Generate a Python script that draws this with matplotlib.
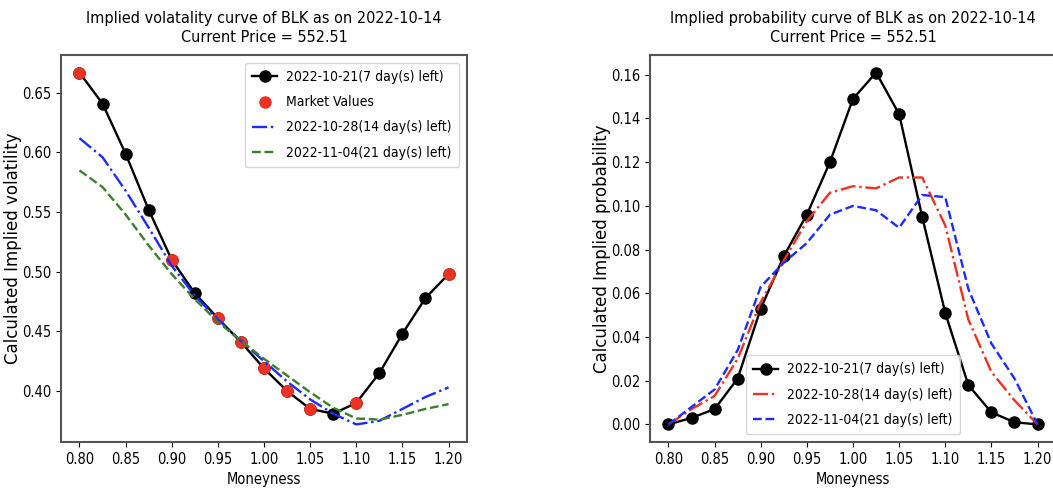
import numpy as np
import matplotlib
matplotlib.use("Agg")
import matplotlib.pyplot as plt

plt.rcParams['font.family'] = 'DejaVu Sans'
plt.rcParams['font.stretch'] = 'condensed'

# moneyness grid
moneyness = [0.800, 0.825, 0.850, 0.875, 0.900, 0.925, 0.950, 0.975, 1.000,
             1.025, 1.050, 1.075, 1.100, 1.125, 1.150, 1.175, 1.200]

# implied volatility curves
iv_7d = [0.667, 0.641, 0.599, 0.552, 0.510, 0.482, 0.461, 0.441, 0.419,
         0.400, 0.385, 0.381, 0.390, 0.415, 0.448, 0.478, 0.498]
iv_14d = [0.612, 0.596, 0.568, 0.537, 0.505, 0.480, 0.460, 0.442, 0.425,
          0.408, 0.393, 0.381, 0.372, 0.375, 0.385, 0.395, 0.403]
iv_21d = [0.585, 0.571, 0.548, 0.522, 0.498, 0.477, 0.458, 0.442, 0.427,
          0.413, 0.399, 0.386, 0.377, 0.376, 0.380, 0.385, 0.389]

# market quotes (7 day expiry)
market_x = [0.800, 0.900, 0.950, 0.975, 1.000, 1.025, 1.050, 1.100, 1.200]
market_iv = [0.667, 0.510, 0.461, 0.441, 0.419, 0.400, 0.385, 0.390, 0.498]

# implied probability curves
prob_7d = [0.000, 0.003, 0.007, 0.021, 0.053, 0.077, 0.096, 0.120, 0.149,
           0.161, 0.142, 0.095, 0.051, 0.018, 0.0055, 0.001, 0.000]
prob_14d = [0.000, 0.007, 0.013, 0.030, 0.056, 0.075, 0.093, 0.106, 0.109,
            0.108, 0.113, 0.113, 0.091, 0.048, 0.024, 0.011, 0.000]
prob_21d = [0.000, 0.008, 0.016, 0.034, 0.063, 0.074, 0.083, 0.096, 0.100,
            0.098, 0.090, 0.105, 0.104, 0.062, 0.037, 0.021, 0.000]

labels = ["2022-10-21(7 day(s) left)", "2022-10-28(14 day(s) left)", "2022-11-04(21 day(s) left)"]
title_vol = "Implied volatality curve of BLK as on 2022-10-14\nCurrent Price = 552.51"
title_prob = "Implied probability curve of BLK as on 2022-10-14\nCurrent Price = 552.51"
xticks = [0.80, 0.85, 0.90, 0.95, 1.00, 1.05, 1.10, 1.15, 1.20]

red = '#ec3223'
blue = '#1a2cff'
green = '#3c7f2a'

fig = plt.figure(figsize=(10.53, 4.99), dpi=100)
ax1 = fig.add_axes([61/1053, 57/499, 406/1053, 387/499])
ax2 = fig.add_axes([650/1053, 57/499, 406/1053, 387/499])

leg_kw = dict(fontsize=10, labelspacing=0.8, borderpad=0.55, borderaxespad=0.55,
              handlelength=1.8, handletextpad=0.65)

# left: volatility
ax1.plot(moneyness, iv_7d, color='black', marker='o', markersize=8, lw=1.7, label=labels[0])
ax1.plot(market_x, market_iv, 'o', color=red, markersize=8, label="Market Values")
ax1.plot(moneyness, iv_14d, color=blue, ls='-.', lw=1.7, label=labels[1])
ax1.plot(moneyness, iv_21d, color=green, ls='--', lw=1.7, label=labels[2])
ax1.set_title(title_vol, fontsize=11.6, linespacing=1.4, pad=9)
ax1.set_xlabel("Moneyness", fontsize=10.5)
ax1.set_ylabel("Calculated Implied volatility", fontsize=12, stretch='normal', labelpad=0)
ax1.set_xticks(xticks)
ax1.set_yticks([0.40, 0.45, 0.50, 0.55, 0.60, 0.65])
ax1.tick_params(labelsize=10.5)
ax1.legend(loc='upper right', **leg_kw)

# right: probability
ax2.plot(moneyness, prob_7d, color='black', marker='o', markersize=8, lw=1.7, label=labels[0])
ax2.plot(moneyness, prob_14d, color=red, ls='-.', lw=1.7, label=labels[1])
ax2.plot(moneyness, prob_21d, color=blue, ls='--', lw=1.7, label=labels[2])
ax2.set_title(title_prob, fontsize=11.6, linespacing=1.4, pad=9)
ax2.set_xlabel("Moneyness", fontsize=10.5)
ax2.set_ylabel("Calculated Implied probability", fontsize=12, stretch='normal', labelpad=0)
ax2.set_xticks(xticks)
ax2.tick_params(labelsize=10.5)
ax2.legend(loc='lower center', **leg_kw)

for ax in (ax1, ax2):
    for s in ax.spines.values():
        s.set_color('#555555')
        s.set_linewidth(1.5)

fig.savefig("out.png", dpi=100)
